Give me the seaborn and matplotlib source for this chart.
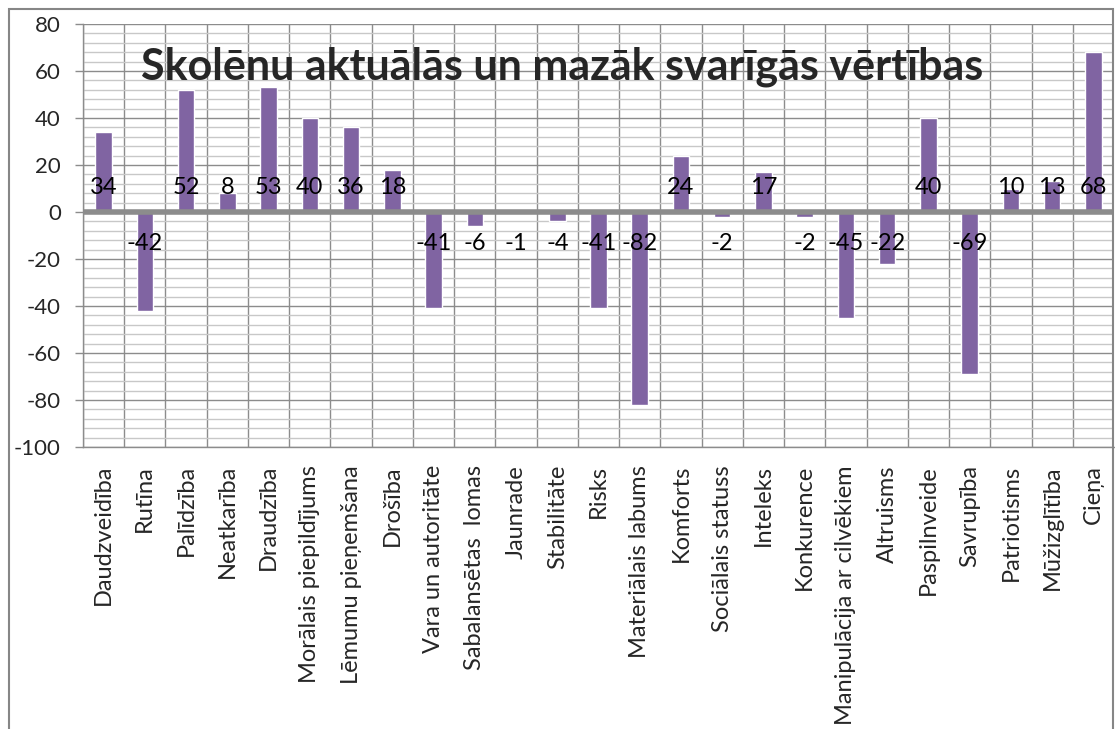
import numpy as np
import matplotlib
matplotlib.use('Agg')
import matplotlib.pyplot as plt
import seaborn as sns
from matplotlib.patches import Rectangle

sns.set_style('white')
plt.rcParams['font.family'] = ['Lato', 'DejaVu Sans']
plt.rcParams['axes.unicode_minus'] = False

categories = ['Daudzveidība', 'Rutīna', 'Palīdzība', 'Neatkarība', 'Draudzība',
              'Morālais piepildījums', 'Lēmumu pieņemšana', 'Drošība',
              'Vara un autoritāte', 'Sabalansētas  lomas', 'Jaunrade', 'Stabilitāte',
              'Risks', 'Materiālais labums', 'Komforts', 'Sociālais statuss',
              'Inteleks', 'Konkurence', 'Manipulācija ar cilvēkiem', 'Altruisms',
              'Paspilnveide', 'Savrupība', 'Patriotisms', 'Mūžizglītība', 'Cieņa']
values = [34, -42, 52, 8, 53, 40, 36, 18, -41, -6, -1, -4, -41, -82, 24, -2,
          17, -2, -45, -22, 40, -69, 10, 13, 68]
title = 'Skolēnu aktuālās un mazāk svarīgās vērtības'

W, H = 1115, 729
fig = plt.figure(figsize=(W / 100, H / 100), dpi=100)
ax = fig.add_axes([83 / W, 1 - 447 / H, (1114 - 83) / W, (447 - 24) / H])

# outer chart frame
fig.patches.append(Rectangle((9 / W, -0.05), (1113 - 9) / W, 1 - 9 / H + 0.05,
                             transform=fig.transFigure, fill=False,
                             edgecolor='#868686', lw=1.5, zorder=0))

sns.barplot(x=categories, y=values, color='#8064A2', width=0.4, saturation=1,
            ax=ax, zorder=3)

ax.set_xlim(-0.5, len(categories) - 0.5)
ax.set_ylim(-100, 80)
ax.set_yticks(np.arange(-100, 81, 20))
ax.set_yticks(np.arange(-100, 81, 4), minor=True)
ax.set_xticks(np.arange(-0.5, len(categories), 1), minor=True)

ax.grid(which='minor', axis='y', color='#c8c8c8', lw=1, zorder=0)
ax.grid(which='major', axis='y', color='#8c8c8c', lw=1, zorder=1)
ax.grid(which='minor', axis='x', color='#8c8c8c', lw=1, zorder=1)
ax.set_axisbelow(True)

ax.axhline(0, color='#8c8c8c', lw=4, zorder=4)

for s in ['top', 'right']:
    ax.spines[s].set_visible(False)
for s in ['left', 'bottom']:
    ax.spines[s].set_color('#8c8c8c')
    ax.spines[s].set_linewidth(1)

ax.tick_params(axis='y', which='major', length=6, width=1, color='#8c8c8c',
               labelsize=16, pad=10, left=True)
ax.tick_params(axis='y', which='minor', length=0)
ax.tick_params(axis='x', which='both', length=0, labelsize=17, pad=13)
ax.set_xticks(range(len(categories)))
ax.set_xticklabels(categories, rotation=90, ha='center', va='top')

for i, v in enumerate(values):
    ax.text(i, 10.6 if v > 0 else -13.2, str(v), ha='center', va='center',
            fontsize=17, color='black', zorder=5)

ax.text(0.465, 0.90, title, transform=ax.transAxes, ha='center', va='center',
        fontsize=31, fontweight='bold', zorder=6)

ax.set_xlabel('')
ax.set_ylabel('')

fig.savefig('out.png', dpi=100)
